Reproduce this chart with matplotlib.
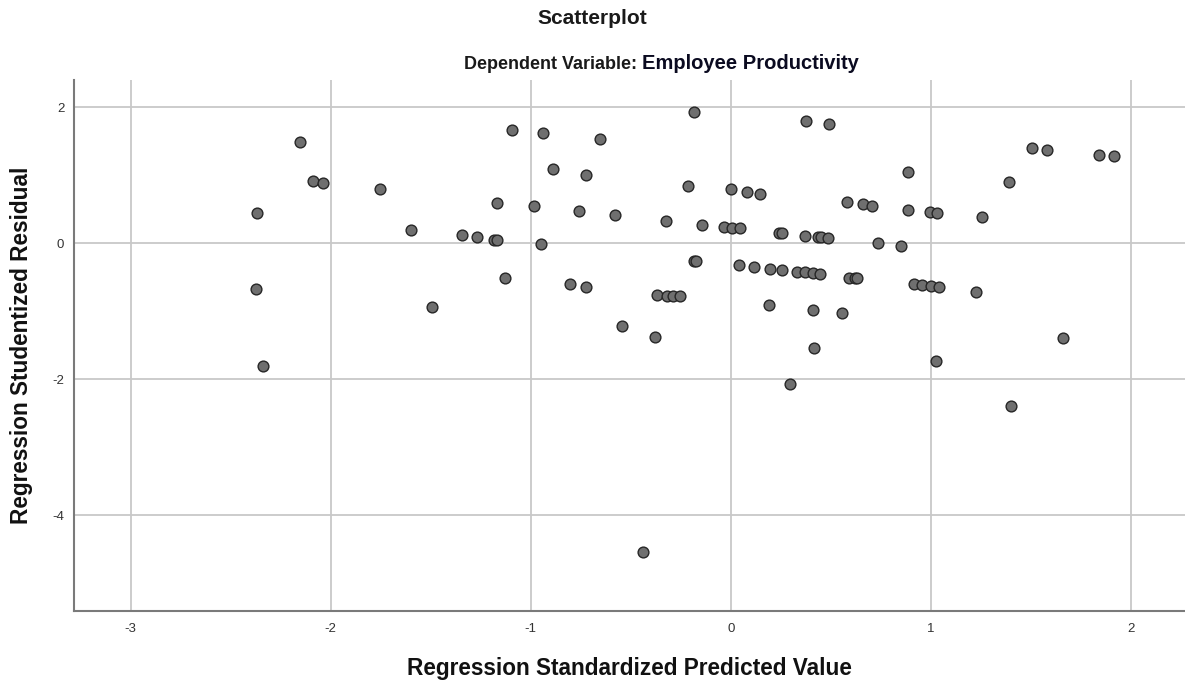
import matplotlib
matplotlib.use("Agg")
import matplotlib.pyplot as plt

plt.rcParams['font.family'] = ['Liberation Sans', 'DejaVu Sans']

title = "Scatterplot"
subtitle_a = "Dependent Variable: "
subtitle_b = "Employee Productivity"
x_label = "Regression Standardized Predicted Value"
y_label = "Regression Studentized Residual"

x_ticks = [-3, -2, -1, 0, 1, 2]
y_ticks = [2, 0, -2, -4]

predicted = [
    -2.155, -2.09, -2.04, -1.755, -2.37, -1.60, -2.375, -2.34,
    -0.183, -1.095, -0.94, -0.655, -0.887, -0.725, -0.213, 0.002, 0.083, 0.147,
    -1.168, -0.983, -0.758, -0.577, -0.322, -0.143, -0.033, 0.008, 0.045,
    0.242, 0.255, -1.345, -1.27, -1.182, -1.168, -0.947, -0.182, -0.173,
    0.04, 0.115, 0.195, 0.258, 0.333, 0.372, 0.41, 0.445,
    -1.13, -0.802, -0.725, -0.37, -0.317, -0.29, -0.255, -1.493, 0.192,
    -0.545, -0.378, 0.297,
    0.375, 0.492, 1.507, 1.582, 1.84, 1.917, 0.883, 1.392,
    0.583, 0.66, 0.705, 0.883, 0.997, 1.03, 1.257,
    0.37, 0.437, 0.45, 0.488, 0.737, 0.85,
    0.592, 0.62, 0.633, 0.917, 0.957, 1.0, 1.038, 1.225,
    0.41, 0.557, 1.66, 0.417, 1.027, 1.398, -0.44,
]
residual = [
    1.485, 0.916, 0.887, 0.80, 0.446, 0.196, -0.67, -1.81,
    1.936, 1.666, 1.627, 1.534, 1.088, 1.01, 0.838, 0.794, 0.75, 0.725,
    0.598, 0.554, 0.48, 0.41, 0.333, 0.274, 0.24, 0.23, 0.22,
    0.157, 0.152, 0.113, 0.088, 0.05, 0.048, -0.015, -0.255, -0.258,
    -0.318, -0.347, -0.38, -0.397, -0.417, -0.426, -0.44, -0.45,
    -0.515, -0.60, -0.65, -0.755, -0.77, -0.77, -0.78, -0.94, -0.916,
    -1.225, -1.377, -2.07,
    1.798, 1.754, 1.397, 1.377, 1.30, 1.286, 1.04, 0.898,
    0.60, 0.57, 0.55, 0.494, 0.465, 0.446, 0.38,
    0.112, 0.095, 0.093, 0.08, 0.0, -0.035,
    -0.515, -0.515, -0.518, -0.60, -0.61, -0.63, -0.645, -0.713,
    -0.98, -1.03, -1.40, -1.54, -1.74, -2.39, -4.54,
]

W, H = 1185, 684
fig = plt.figure(figsize=(W / 100, H / 100), dpi=100)
ax = fig.add_axes([74 / W, (H - 611) / H, 1 - 74 / W, (611 - 80) / H])

ax.set_xlim(-3.283, 2.27)
ax.set_ylim(-5.41, 2.40)
ax.set_xticks(x_ticks)
ax.set_yticks(y_ticks)
ax.set_xticklabels([str(t) for t in x_ticks])
ax.set_yticklabels([str(t) for t in y_ticks])
ax.tick_params(axis='x', length=0, labelsize=9.5, colors='#333333', pad=9)
ax.tick_params(axis='y', length=0, labelsize=9.5, colors='#333333', pad=7)

ax.grid(True, color='#c8c8c8', linewidth=1.3)
ax.set_axisbelow(True)
for s in ['top', 'right']:
    ax.spines[s].set_visible(False)
for s in ['left', 'bottom']:
    ax.spines[s].set_color('#7a7a7a')
    ax.spines[s].set_linewidth(1.5)

ax.scatter(predicted, residual, s=60, facecolor='#6f6f6f', edgecolor='#262626',
           linewidth=1.0, zorder=3)

fig.text(629.5 / W, 1 - 668 / H, x_label, ha='center', va='center',
         fontsize=16.3, fontweight='bold', color='#111111')
fig.text(22 / W, 1 - 345.5 / H, y_label, ha='center', va='center', rotation=90,
         fontsize=16.3, fontweight='bold', color='#111111')

fig.text(592 / W, 1 - 18 / H, title, ha='center', va='center',
         fontsize=15, fontweight='bold', color='#1a1a1a')
t1 = fig.text(464 / W, 1 - 69 / H, subtitle_a, ha='left', va='baseline',
              fontsize=13, fontweight='bold', color='#1a1a1a')
fig.canvas.draw()
bb = t1.get_window_extent()
fig.text(bb.x1 / fig.bbox.width, 1 - 69 / H, subtitle_b, ha='left', va='baseline',
         fontsize=14.5, fontweight='bold', color='#0a0a20')

fig.savefig('out.png', dpi=100)
